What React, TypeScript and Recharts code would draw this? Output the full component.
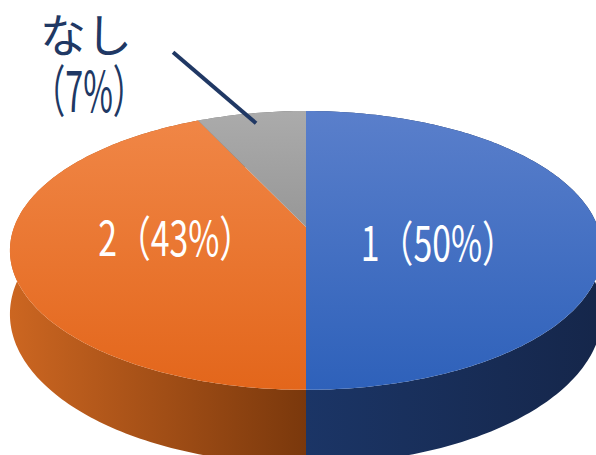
import React from 'react';
import { Pie, PieChart } from 'recharts';

const names = ['1', '2', 'なし'];
const shares = [50, 43, 7];

const data = names.map((name, i) => ({ name, value: shares[i] }));

// top face gradients (top -> bottom) and wall gradients (left -> right)
const topColors = [
  ['#5a7fcb', '#2e61ba'],
  ['#f08646', '#e3661b'],
  ['#ababab', '#979797'],
];
const wallColors = [
  ['#1b3566', '#15264a'],
  ['#cc6621', '#7a380c'],
  ['#7a7a7a', '#5a5a5a'],
];

// small hand nudges for the inside labels
const labelNudge: Record<string, [number, number]> = {
  '1': [1, 13],
  '2': [0, -6],
};

// fake 3D: perspective projection of the pie disc
const ASPECT = 2.154;
const PERSP = 0.168;
const DEPTH = 62;

const project = (cx: number, cy: number, r: number, angle: number, f = 1, drop = 0) => {
  const rad = (angle * Math.PI) / 180;
  const u = Math.cos(rad) * f;
  const v = -Math.sin(rad) * f;
  const w = 1 - PERSP * v;
  return [cx + (r * ASPECT * u) / w, cy + (r * v + drop) / w];
};

const arc = (cx: number, cy: number, r: number, start: number, end: number, drop = 0) => {
  const steps = Math.max(2, Math.ceil(Math.abs(end - start)));
  const pts: string[] = [];
  for (let k = 0; k <= steps; k++) {
    const a = start + ((end - start) * k) / steps;
    const [x, y] = project(cx, cy, r, a, 1, drop);
    pts.push(`${x.toFixed(2)},${y.toFixed(2)}`);
  }
  return pts;
};

const WallSlice = (props: any) => {
  const { cx, cy, outerRadius, startAngle, endAngle, name } = props;
  const i = names.indexOf(name);
  const top = arc(cx, cy, outerRadius, startAngle, endAngle);
  const bottom = arc(cx, cy, outerRadius, endAngle, startAngle, DEPTH);
  const id = `wall${i}`;
  return (
    <g>
      <defs>
        <linearGradient id={id} x1="0" y1="0" x2="1" y2="0">
          <stop offset="0%" stopColor={wallColors[i][0]} />
          <stop offset="100%" stopColor={wallColors[i][1]} />
        </linearGradient>
      </defs>
      <path d={`M${top.join(' L')} L${bottom.join(' L')} Z`} fill={`url(#${id})`} />
    </g>
  );
};

const TopSlice = (props: any) => {
  const { cx, cy, outerRadius, startAngle, endAngle, name } = props;
  const i = names.indexOf(name);
  const pts = arc(cx, cy, outerRadius, startAngle, endAngle);
  const id = `top${i}`;
  return (
    <g>
      <defs>
        <linearGradient id={id} x1="0" y1="0" x2="0" y2="1">
          <stop offset="0%" stopColor={topColors[i][0]} />
          <stop offset="100%" stopColor={topColors[i][1]} />
        </linearGradient>
      </defs>
      <path d={`M${cx},${cy} L${pts.join(' L')} Z`} fill={`url(#${id})`} />
    </g>
  );
};

const FONT = '"Noto Sans CJK JP", "Noto Sans", sans-serif';

const renderLabel = (props: any) => {
  const { cx, cy, outerRadius, midAngle, name, percent } = props;
  const pct = Math.round(percent * 100);
  if (name === 'なし') {
    const [x1, y1] = project(cx, cy, outerRadius, midAngle, 0.9);
    const x2 = x1 - 83;
    const y2 = y1 - 71;
    return (
      <g>
        <line x1={x1} y1={y1} x2={x2} y2={y2} stroke="#203864" strokeWidth={4} />
        <text x={x2 - 87} y={y2 - 20} fill="#203864" fontSize={46} fontFamily={FONT}
          textAnchor="middle" dominantBaseline="central">
          {name}
        </text>
        <text x={x2 - 84} y={y2 + 35} fill="#203864" fontSize={56} fontFamily={FONT}
          textAnchor="middle" dominantBaseline="central" textLength={112} lengthAdjust="spacingAndGlyphs">
          {`（${pct}%）`}
        </text>
      </g>
    );
  }
  const [x, y] = project(cx, cy, outerRadius, midAngle, 0.45);
  const [dx, dy] = labelNudge[name] || [0, 0];
  return (
    <text x={x + dx} y={y + dy} fill="#ffffff" fontSize={48} fontFamily={FONT}
      textAnchor="middle" dominantBaseline="central" textLength={155} lengthAdjust="spacingAndGlyphs">
      {`${name}（${pct}%）`}
    </text>
  );
};

const App: React.FC = () => {
  return (
    <div style={{ position: 'absolute', left: 0, top: 0, background: '#ffffff' }}>
      <PieChart width={596} height={455} margin={{ top: 0, right: 0, bottom: 0, left: 0 }}>
        <Pie
          data={data}
          dataKey="value"
          nameKey="name"
          cx={306}
          cy={227}
          outerRadius={135.5}
          startAngle={90}
          endAngle={-270}
          stroke="none"
          shape={WallSlice}
          isAnimationActive={false}
        />
        <Pie
          data={data}
          dataKey="value"
          nameKey="name"
          cx={306}
          cy={227}
          outerRadius={135.5}
          startAngle={90}
          endAngle={-270}
          stroke="none"
          shape={TopSlice}
          label={renderLabel}
          labelLine={false}
          isAnimationActive={false}
        />
      </PieChart>
    </div>
  );
};

export default App;
